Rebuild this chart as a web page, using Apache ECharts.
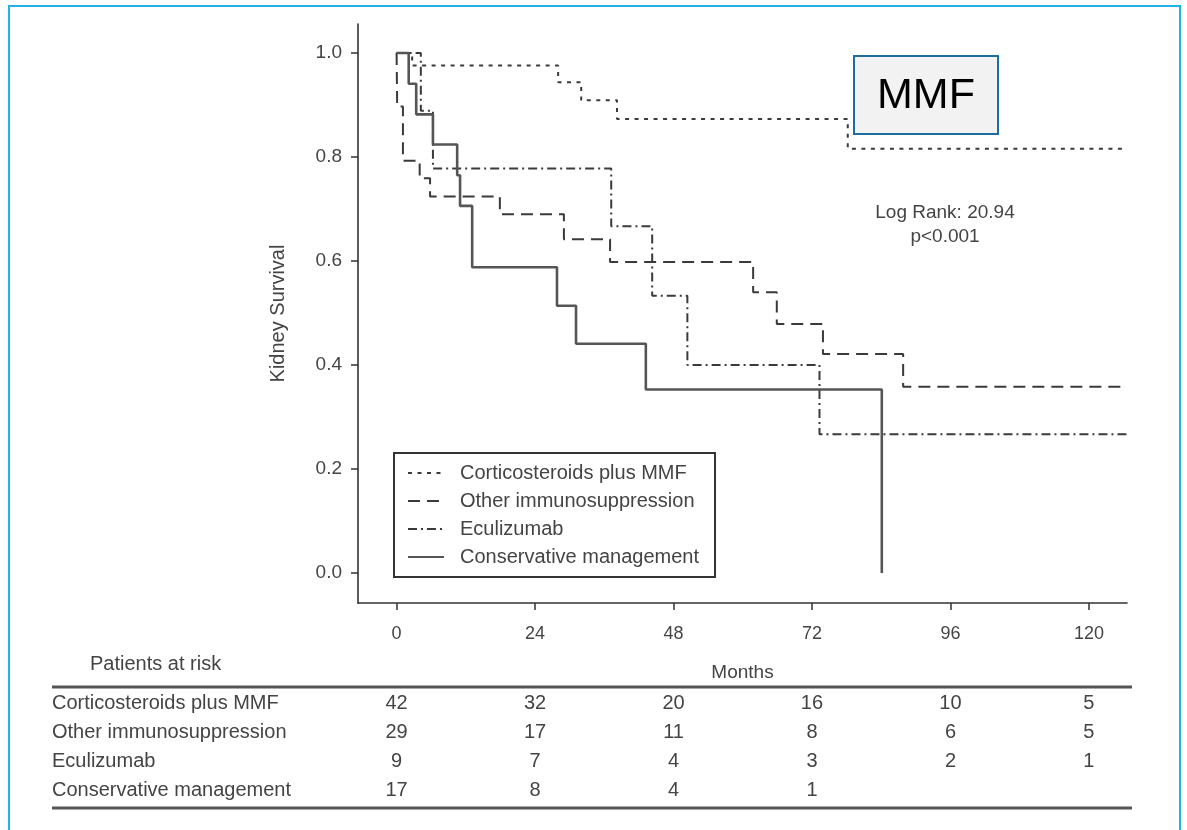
<!DOCTYPE html>
<html>
<head>
<meta charset="utf-8">
<script src="https://cdn.jsdelivr.net/npm/echarts@6/dist/echarts.min.js"></script>
<style>
  html, body { margin: 0; padding: 0; background: #ffffff; }
  #main { width: 1187px; height: 830px; }
</style>
</head>
<body>
<div id="main"></div>
<script>
// Treatment groups
const groupNames = ['Corticosteroids plus MMF', 'Other immunosuppression', 'Eculizumab', 'Conservative management'];

// Kaplan-Meier steps: month of each drop and the survival after it
const corticoMonths = [0, 2.7, 28.0, 32.0, 38.2, 78.2, 126.6];
const corticoSurv   = [1, 0.976, 0.944, 0.909, 0.873, 0.816, 0.816];

const otherMonths = [0, 0.1, 1.1, 4.0, 5.8, 17.9, 29.0, 37.0, 61.8, 65.9, 73.9, 87.8, 126.6];
const otherSurv   = [1, 0.897, 0.793, 0.759, 0.724, 0.690, 0.642, 0.598, 0.540, 0.479, 0.421, 0.358, 0.358];

const eculizumabMonths = [0, 4.2, 6.3, 37.2, 44.3, 50.4, 73.3, 126.6];
const eculizumabSurv   = [1, 0.889, 0.778, 0.667, 0.533, 0.400, 0.267, 0.267];

const conservativeMonths = [0, 2.1, 3.4, 6.3, 10.5, 11.0, 13.1, 27.8, 31.1, 43.2, 84.1];
const conservativeSurv   = [1, 0.941, 0.882, 0.824, 0.765, 0.706, 0.588, 0.514, 0.441, 0.353, 0];

// Axis ticks
const monthTicks = [0, 24, 48, 72, 96, 120];
const survivalTicks = [0, 0.2, 0.4, 0.6, 0.8, 1.0];

// Patients at risk at each month tick
const riskCortico      = [42, 32, 20, 16, 10, 5];
const riskOther        = [29, 17, 11, 8, 6, 5];
const riskEculizumab   = [9, 7, 4, 3, 2, 1];
const riskConservative = [17, 8, 4, 1, null, null];

const logRankText = 'Log Rank: 20.94';
const pValueText = 'p<0.001';
const calloutText = 'MMF';

const FONT = 'Liberation Sans';
const TEXT_COLOR = '#444';
const LINE_COLOR = '#3a3a3a';

function pairs(xs, ys) { return xs.map((x, i) => [x, ys[i]]); }

const chart = echarts.init(document.getElementById('main'), null, { renderer: 'canvas' });

const stepLine = (name, xs, ys, type, width, color) => ({
  name: name,
  type: 'line',
  step: 'end',
  symbol: 'none',
  showSymbol: false,
  animation: false,
  data: pairs(xs, ys),
  lineStyle: { color: color, width: width, type: type },
  itemStyle: { color: color }
});

chart.setOption({
  animation: false,
  backgroundColor: '#ffffff',
  textStyle: { fontFamily: FONT },
  grid: { left: 358, top: 24, right: 60, bottom: 227, containLabel: false },
  xAxis: {
    type: 'value',
    min: -6.69,
    max: 126.6,
    name: 'Months',
    nameLocation: 'middle',
    nameGap: 60,
    nameTextStyle: { fontSize: 19, color: TEXT_COLOR, fontFamily: FONT },
    axisLine: { show: true, onZero: false, lineStyle: { color: '#333', width: 1.6 } },
    axisTick: { show: true, length: 7, customValues: monthTicks, lineStyle: { color: '#333', width: 1.5 } },
    axisLabel: { show: true, customValues: monthTicks, margin: 22, fontSize: 18, color: TEXT_COLOR, fontFamily: FONT },
    splitLine: { show: false }
  },
  yAxis: {
    type: 'value',
    min: -0.0577,
    max: 1.0558,
    name: 'Kidney Survival',
    nameLocation: 'middle',
    nameGap: 70,
    nameRotate: 90,
    nameTextStyle: { fontSize: 20, color: TEXT_COLOR, fontFamily: FONT },
    axisLine: { show: true, onZero: false, lineStyle: { color: '#333', width: 1.6 } },
    axisTick: { show: true, length: 7, customValues: survivalTicks, lineStyle: { color: '#333', width: 1.5 } },
    axisLabel: {
      show: true, customValues: survivalTicks, margin: 16, fontSize: 19, color: TEXT_COLOR, fontFamily: FONT,
      formatter: v => v.toFixed(1)
    },
    splitLine: { show: false }
  },
  legend: {
    orient: 'vertical',
    left: 394,
    top: 453,
    padding: [10, 16, 10, 13],
    itemWidth: 36,
    itemHeight: 14,
    itemGap: 8,
    borderColor: '#333',
    borderWidth: 2,
    selectedMode: false,
    data: groupNames,
    itemStyle: { opacity: 0 },
    textStyle: { fontSize: 20, color: TEXT_COLOR, fontFamily: FONT, lineHeight: 20, padding: [0, 0, 0, 11] }
  },
  series: [
    stepLine(groupNames[0], corticoMonths, corticoSurv, [4, 5.5], 2, LINE_COLOR),
    stepLine(groupNames[1], otherMonths, otherSurv, [12, 7], 2, LINE_COLOR),
    stepLine(groupNames[2], eculizumabMonths, eculizumabSurv, [9, 4, 2, 4], 2, LINE_COLOR),
    stepLine(groupNames[3], conservativeMonths, conservativeSurv, 'solid', 2.6, '#555')
  ]
});

// Annotations, outer frame and the patients-at-risk table
const riskRows = [riskCortico, riskOther, riskEculizumab, riskConservative];
const rowY = [703, 732, 761, 790];
const tableLeft = 52, tableRight = 1132;

const graphics = [];

// outer frame
graphics.push({
  type: 'polyline',
  shape: { points: [[9, 830], [9, 6], [1180, 6], [1180, 830]] },
  style: { stroke: '#22b2e6', lineWidth: 2, fill: null },
  silent: true
});

// MMF callout
graphics.push({
  type: 'rect',
  shape: { x: 854, y: 56, width: 144, height: 78 },
  style: { fill: '#f2f2f2', stroke: '#1d6e9c', lineWidth: 2 },
  z: 10
});
graphics.push({
  type: 'text',
  x: 926, y: 96,
  style: { text: calloutText, fontSize: 43, fontFamily: FONT, fill: '#000', align: 'center', verticalAlign: 'middle' },
  z: 11
});

// log-rank statistic
graphics.push({
  type: 'text', x: 945, y: 213,
  style: { text: logRankText, fontSize: 19, fontFamily: FONT, fill: TEXT_COLOR, align: 'center', verticalAlign: 'middle' }
});
graphics.push({
  type: 'text', x: 945, y: 237,
  style: { text: pValueText, fontSize: 19, fontFamily: FONT, fill: TEXT_COLOR, align: 'center', verticalAlign: 'middle' }
});

// table heading and rules
graphics.push({
  type: 'text', x: 90, y: 664,
  style: { text: 'Patients at risk', fontSize: 20, fontFamily: FONT, fill: TEXT_COLOR, align: 'left', verticalAlign: 'middle' }
});
[687, 808].forEach(y => graphics.push({
  type: 'line',
  shape: { x1: tableLeft, y1: y, x2: tableRight, y2: y },
  style: { stroke: '#555', lineWidth: 3 }
}));

riskRows.forEach((row, r) => {
  graphics.push({
    type: 'text', x: tableLeft, y: rowY[r],
    style: { text: groupNames[r], fontSize: 20, fontFamily: FONT, fill: TEXT_COLOR, align: 'left', verticalAlign: 'middle' }
  });
  row.forEach((n, i) => {
    if (n === null) return;
    const px = chart.convertToPixel({ xAxisIndex: 0 }, monthTicks[i]);
    graphics.push({
      type: 'text', x: px, y: rowY[r],
      style: { text: String(n), fontSize: 20, fontFamily: FONT, fill: TEXT_COLOR, align: 'center', verticalAlign: 'middle' }
    });
  });
});

chart.setOption({ graphic: graphics });
</script>
</body>
</html>
